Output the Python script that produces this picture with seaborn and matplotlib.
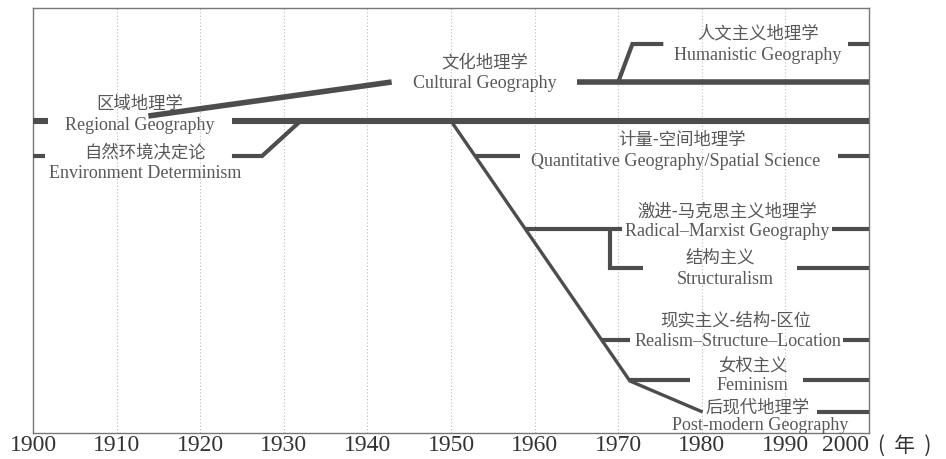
import pandas as pd
import seaborn as sns
import matplotlib.pyplot as plt

# 各流派的线段 (年份, 纵向位置; 纵向位置自上而下递增)
regional_yr = [[1900, 1901.8], [1923.8, 2000]]
regional_lv = [[122, 122], [122, 122]]
environ_yr = [[1900, 1901.4], [1923.8, 1927.4, 1932.0]]
environ_lv = [[157, 157], [157, 157, 122]]
cultural_yr = [[1913.8, 1942.9], [1965.1, 2000]]
cultural_lv = [[117, 83], [83, 83]]
human_yr = [[1970.0, 1971.7, 1975.4], [1997.5, 2000]]
human_lv = [[83, 45, 45], [45, 45]]
trunk_yr = [[1950.0, 1971.4, 1980.1]]
trunk_lv = [[122, 382, 413]]
quant_yr = [[1953.0, 1958.3], [1996.3, 2000]]
quant_lv = [[157, 157], [157, 157]]
radical_yr = [[1958.9, 1970.5], [1995.6, 2000]]
radical_lv = [[230, 230], [230, 230]]
struct_yr = [[1969.0, 1969.0, 1973.0], [1991.4, 2000]]
struct_lv = [[230, 269, 269], [269, 269]]
realism_yr = [[1968.0, 1971.4], [1996.9, 2000]]
realism_lv = [[341, 341], [341, 341]]
femin_yr = [[1971.4, 1978.6], [1992.1, 2000]]
femin_lv = [[381, 381], [381, 381]]
postmod_yr = [[1993.8, 2000]]
postmod_lv = [[413, 413]]

# 标签: 中文, 英文, 中心年份, 纵向位置
labels_cn = ['区域地理学', '自然环境决定论', '文化地理学', '人文主义地理学', '计量-空间地理学',
             '激进-马克思主义地理学', '结构主义', '现实主义-结构-区位', '女权主义', '后现代地理学']
labels_en = ['Regional Geography', 'Environment Determinism', 'Cultural Geography',
             'Humanistic Geography', 'Quantitative Geography/Spatial Science',
             'Radical–Marxist Geography', 'Structuralism', 'Realism–Structure–Location',
             'Feminism', 'Post-modern Geography']
label_yr_cn = [1912.8, 1913.4, 1954.1, 1986.7, 1977.6, 1983.0, 1982.2, 1984.0, 1986.1, 1986.7]
label_yr_en = [1912.8, 1913.4, 1954.1, 1986.7, 1976.9, 1983.0, 1982.8, 1984.3, 1986.0, 1987.0]
label_lv_cn = [104, 153, 62, 33, 140, 212, 258, 320, 366, 408]
label_lv_en = [125, 173, 83, 55, 161, 232, 280, 341, 386, 426]

years = list(range(1900, 2001, 10))

series = [
    ('regional', regional_yr, regional_lv, 4.4),
    ('environ', environ_yr, environ_lv, 3.0),
    ('cultural', cultural_yr, cultural_lv, 4.0),
    ('human', human_yr, human_lv, 3.0),
    ('trunk', trunk_yr, trunk_lv, 2.4),
    ('quant', quant_yr, quant_lv, 3.0),
    ('radical', radical_yr, radical_lv, 3.0),
    ('struct', struct_yr, struct_lv, 3.0),
    ('realism', realism_yr, realism_lv, 3.0),
    ('femin', femin_yr, femin_lv, 3.0),
    ('postmod', postmod_yr, postmod_lv, 3.0),
]

rows = []
for name, yrs, lvs, lw in series:
    for k, (xs, ys) in enumerate(zip(yrs, lvs)):
        for i, (x, y) in enumerate(zip(xs, ys)):
            rows.append({'seg': f'{name}_{k}', 'year': x, 'level': y, 'lw': lw, 'order': i})
df = pd.DataFrame(rows)

sns.set_theme(style='white')
plt.rcParams['font.family'] = ['Liberation Serif', 'Noto Sans CJK SC']

fig = plt.figure(figsize=(9.46, 4.6), dpi=100)
ax = fig.add_axes([33 / 946, 26 / 460, 836 / 946, 425 / 460])

line_col = '#4d4d4d'
txt_col = '#585858'

for seg, g in df.groupby('seg', sort=False):
    g = g.sort_values('order')
    sns.lineplot(data=g, x='year', y='level', ax=ax, sort=False, estimator=None,
                 color=line_col, linewidth=g['lw'].iloc[0], solid_capstyle='butt',
                 solid_joinstyle='miter', legend=False, zorder=3)

for t, x, y in zip(labels_cn, label_yr_cn, label_lv_cn):
    ax.text(x, y, t, ha='center', va='center', fontsize=12.5, color=txt_col,
            family=['Noto Sans CJK SC', 'DejaVu Sans'], fontweight='light', zorder=4)
for t, x, y in zip(labels_en, label_yr_en, label_lv_en):
    ax.text(x, y, t, ha='center', va='center', fontsize=13, color=txt_col,
            family=['Liberation Serif', 'DejaVu Serif'], zorder=4)

ax.set_xlim(1900, 2000)
ax.set_ylim(434, 9)
ax.set_xticks(years)
ax.set_xticklabels([str(y) for y in years], fontsize=17, color='#333333',
                   family=['Liberation Serif'])
ax.get_xticklabels()[-1].set_ha('right')
ax.set_yticks([])
ax.set_xlabel('')
ax.set_ylabel('')
ax.tick_params(axis='x', length=0, pad=1)
for x in years[1:-1]:
    ax.axvline(x, color='#bbbbbb', linestyle=(0, (1, 2)), linewidth=0.8, zorder=1)
for s in ax.spines.values():
    s.set_color('#777777')
    s.set_linewidth(1.0)

ax.text(1.011, -0.028, '(  年  )', transform=ax.transAxes, ha='left', va='center',
        fontsize=15, color='#333333', family=['Noto Sans CJK SC', 'DejaVu Sans'],
        fontweight='light', clip_on=False)

fig.savefig('out.png', dpi=100)
